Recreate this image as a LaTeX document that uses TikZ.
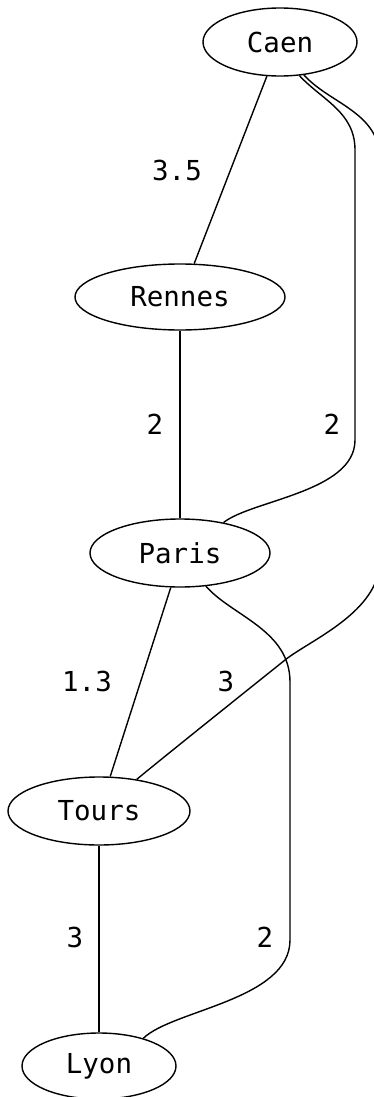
\documentclass[tikz,border=0pt]{standalone}
\usepackage{fontspec}
\setmainfont{DejaVu Sans Mono}
\usetikzlibrary{shapes.geometric}
\begin{document}
\begin{tikzpicture}[x=1pt,y=-1pt,
  city/.style={draw,ellipse,line width=1.4pt,inner sep=0pt,font=\fontsize{27.5}{30}\selectfont},
  lbl/.style={font=\fontsize{27.5}{30}\selectfont,inner sep=0pt},
  edge/.style={line width=1.4pt}]
\useasboundingbox (0,0) rectangle (374,1097);
\clip (0,0) rectangle (374,1097);
\node[city,minimum width=154pt,minimum height=68pt] (caen) at (280,42) {Caen};
\node[city,minimum width=210pt,minimum height=66pt] (rennes) at (180,297) {Rennes};
\node[city,minimum width=180pt,minimum height=68pt] (paris) at (180,553) {Paris};
\node[city,minimum width=182pt,minimum height=68pt] (tours) at (99,811) {Tours};
\node[city,minimum width=154pt,minimum height=66pt] (lyon) at (99,1066) {Lyon};

\draw[edge] (caen.-111) -- (rennes.67);
\draw[edge] (rennes.south) -- (paris.north);
\draw[edge] (caen.-60) .. controls (322,100) and (355,112) .. (355,150) -- (355,440)
  .. controls (355,492) and (252,500) .. (paris.35);
\draw[edge] (caen.-54) .. controls (330,104) and (380,112) .. (380,160) -- (380,560)
  .. controls (380,612) and (310,640) .. (285,660) .. controls (255,684) and (165,756) .. (tours.40);
\draw[edge] (paris.-105) -- (tours.72);
\draw[edge] (paris.-52) .. controls (232,616) and (290,630) .. (290,682) -- (290,940)
  .. controls (290,1000) and (172,1010) .. (lyon.32);
\draw[edge] (tours.south) -- (lyon.north);

\node[lbl] (l1) at (177,170) {3.5};
\node[lbl] (l2) at (155,424) {2};
\node[lbl] (l3) at (332,424) {2};
\node[lbl] (l4) at (87,681) {1.3};
\node[lbl] (l5) at (226,681) {3};
\node[lbl] (l6) at (75,937) {3};
\node[lbl] (l7) at (265,937) {2};
\end{tikzpicture}
\end{document}
